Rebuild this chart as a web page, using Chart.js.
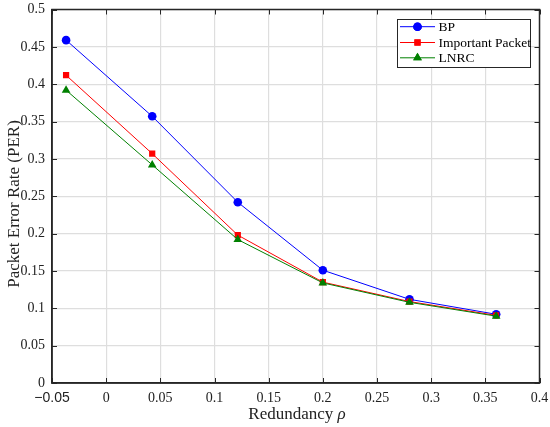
<!DOCTYPE html>
<html lang="en">
<head>
    <meta charset="UTF-8">
    <title>Packet Error Rate vs Redundancy</title>
    <script src="https://cdn.jsdelivr.net/npm/chart.js"></script>
    <style>
        html, body { margin: 0; padding: 0; background: #fff; }
        #wrap { width: 550px; height: 427px; }
    </style>
</head>
<body>
    <div id="wrap"><canvas id="perChart"></canvas></div>

    <script>
        // values
        const redundancy = [-0.037, 0.0425, 0.1215, 0.2, 0.28, 0.36];
        const perBP = [0.459, 0.357, 0.242, 0.151, 0.112, 0.092];
        const perImportant = [0.412, 0.307, 0.198, 0.135, 0.109, 0.0905];
        const perLNRC = [0.392, 0.292, 0.192, 0.134, 0.108, 0.0895];
        const seriesNames = ['BP', 'Important Packet', 'LNRC'];

        const serif = "'Liberation Serif', 'Times New Roman', serif";
        const frameColor = '#262626';

        function toPoints(ys) {
            return redundancy.map((x, i) => ({ x: x, y: ys[i] }));
        }

        const styles = [
            { color: '#0000ff', pointStyle: 'circle', radius: 4.3 },
            { color: '#ff0000', pointStyle: 'rect', radius: 4.4 },
            { color: '#008000', pointStyle: 'triangle', radius: 5 }
        ];

        // frame on top/right, inward tick marks, legend box, axis titles
        const figurePlugin = {
            id: 'figure',
            afterDatasetsDraw(chart) {
                const ctx = chart.ctx;
                const a = chart.chartArea;
                const xs = chart.scales.x, ys = chart.scales.y;
                ctx.save();
                ctx.strokeStyle = frameColor;
                ctx.lineWidth = 1.5;
                ctx.strokeRect(a.left, a.top, a.right - a.left, a.bottom - a.top);

                ctx.lineWidth = 1;
                ctx.beginPath();
                xs.ticks.forEach(t => {
                    const px = Math.round(xs.getPixelForValue(t.value)) + 0.5;
                    ctx.moveTo(px, a.bottom); ctx.lineTo(px, a.bottom - 5);
                    ctx.moveTo(px, a.top); ctx.lineTo(px, a.top + 5);
                });
                ys.ticks.forEach(t => {
                    const py = Math.round(ys.getPixelForValue(t.value)) + 0.5;
                    ctx.moveTo(a.left, py); ctx.lineTo(a.left + 5, py);
                    ctx.moveTo(a.right, py); ctx.lineTo(a.right - 5, py);
                });
                ctx.stroke();

                // legend
                const lx = 397, ly = 19, lw = 133, lh = 48;
                ctx.fillStyle = '#fff';
                ctx.fillRect(lx, ly, lw, lh);
                ctx.strokeStyle = frameColor;
                ctx.lineWidth = 1;
                ctx.strokeRect(lx + 0.5, ly + 0.5, lw, lh);
                ctx.font = '13.5px ' + serif;
                ctx.textBaseline = 'middle';
                const rows = [26.7, 42.5, 57.8];
                seriesNames.forEach((name, i) => {
                    const s = styles[i];
                    const y = rows[i];
                    ctx.strokeStyle = s.color;
                    ctx.lineWidth = 1;
                    ctx.beginPath();
                    ctx.moveTo(400, y); ctx.lineTo(435, y);
                    ctx.stroke();
                    ctx.fillStyle = s.color;
                    Chart.helpers.drawPoint(ctx, { pointStyle: s.pointStyle, radius: s.radius, borderWidth: 0 }, 417.5, y);
                    ctx.fill();
                    ctx.fillStyle = '#000';
                    ctx.textAlign = 'left';
                    ctx.fillText(name, 438.5, y + 0.5);
                });

                // axis titles
                ctx.fillStyle = '#222';
                ctx.textBaseline = 'alphabetic';
                ctx.font = '17px ' + serif;
                const t1 = 'Redundancy ';
                const w1 = ctx.measureText(t1).width;
                ctx.font = 'italic 17px ' + serif;
                const w2 = ctx.measureText('\u03c1').width;
                const x0 = 297 - (w1 + w2) / 2;
                ctx.font = '17px ' + serif;
                ctx.textAlign = 'left';
                ctx.fillText(t1, x0, 419);
                ctx.font = 'italic 17px ' + serif;
                ctx.fillText('\u03c1', x0 + w1, 419);

                ctx.translate(19, 204);
                ctx.rotate(-Math.PI / 2);
                ctx.font = '17px ' + serif;
                ctx.textAlign = 'center';
                ctx.fillText('Packet Error Rate (PER)', 0, 0);
                ctx.restore();
            }
        };

        const datasets = [perBP, perImportant, perLNRC].map((ys, i) => ({
            label: seriesNames[i],
            data: toPoints(ys),
            borderColor: styles[i].color,
            backgroundColor: styles[i].color,
            borderWidth: 1,
            pointStyle: styles[i].pointStyle,
            pointRadius: styles[i].radius,
            pointBorderWidth: 0,
            order: 2 - i,
            tension: 0
        }));

        const ctx = document.getElementById('perChart').getContext('2d');
        new Chart(ctx, {
            type: 'line',
            data: { datasets: datasets },
            options: {
                responsive: true,
                maintainAspectRatio: false,
                animation: false,
                events: [],
                layout: { padding: { top: 9.5, right: 10.5, left: 0, bottom: 0 } },
                plugins: {
                    legend: { display: false },
                    tooltip: { enabled: false },
                    title: { display: false }
                },
                scales: {
                    x: {
                        type: 'linear',
                        min: -0.05,
                        max: 0.4,
                        afterFit: s => {
                            s.height = 44;
                            s.paddingLeft = 0; s.paddingRight = 0;
                        },
                        ticks: {
                            stepSize: 0.05,
                            padding: 7,
                            color: '#222',
                            maxRotation: 0,
                            autoSkip: false,
                            font: c => (c.tick && c.tick.value < -0.01)
                                ? { family: "'Liberation Sans', Arial, sans-serif", size: 14 }
                                : { family: serif, size: 14 },
                            callback: v => v < -0.01 ? '\u22120.05' : String(+v.toFixed(2))
                        },
                        grid: { color: '#dedede', lineWidth: 1.2, drawTicks: false },
                        border: { color: frameColor, width: 1.5 }
                    },
                    y: {
                        min: 0,
                        max: 0.5,
                        afterFit: s => {
                            s.width = 52;
                            s.paddingTop = 0; s.paddingBottom = 0;
                        },
                        ticks: {
                            stepSize: 0.05,
                            padding: 7,
                            color: '#222',
                            font: { family: serif, size: 14 },
                            callback: v => String(+v.toFixed(2))
                        },
                        grid: { color: '#dedede', lineWidth: 1.2, drawTicks: false },
                        border: { color: frameColor, width: 1.5 }
                    }
                }
            },
            plugins: [figurePlugin]
        });
    </script>
</body>
</html>
